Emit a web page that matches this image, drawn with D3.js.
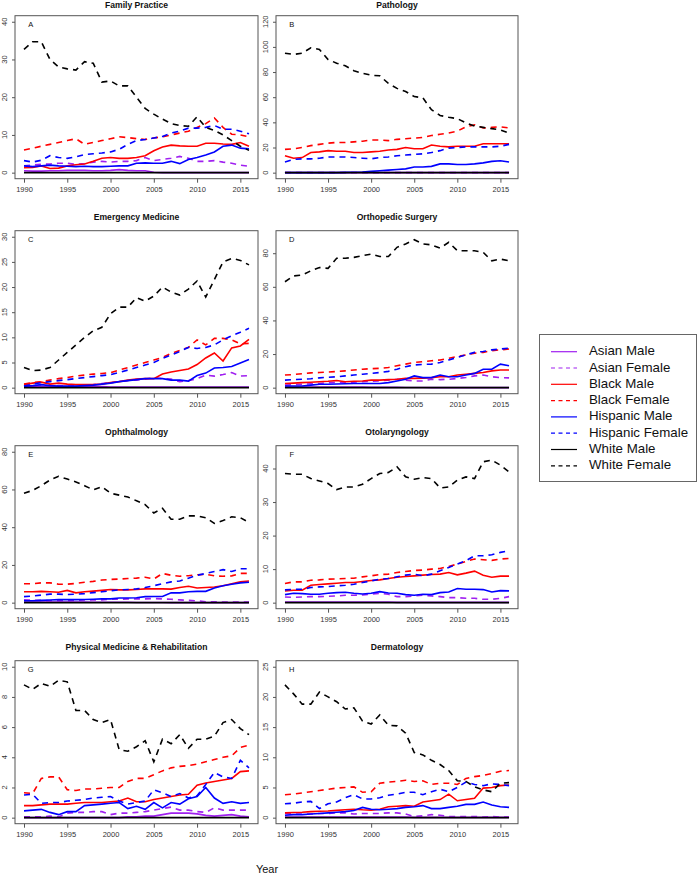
<!DOCTYPE html>
<html><head><meta charset="utf-8">
<script src="https://cdn.jsdelivr.net/npm/d3@7"></script>
<style>body{margin:0;background:#fff}svg{display:block;font-family:"Liberation Sans",Arial,sans-serif}</style>
</head><body><div id="chart"></div>
<script>
const years = d3.range(1990, 2017);
const xTicks = [1990, 1995, 2000, 2005, 2010, 2015];
const seriesNames = ["Asian Male","Asian Female","Black Male","Black Female","Hispanic Male","Hispanic Female","White Male","White Female"];
const seriesColors = ["#A020F0","#A020F0","#FF0000","#FF0000","#0000FF","#0000FF","#000000","#000000"];
const seriesDashed = [false,true,false,true,false,true,false,true];
const panelTitles = ["Family Practice","Pathology","Emergency Medicine","Orthopedic Surgery","Ophthalmology","Otolaryngology","Physical Medicine & Rehabilitation","Dermatology"];
const panelLetters = ["A","B","C","D","E","F","G","H"];
const panelYMax = [40,120,30,89.8,80,45,10,25];
const panelYTicks = [[0,10,20,30,40],[0,20,40,60,80,100,120],[0,5,10,15,20,25,30],[0,20,40,60,80],[0,20,40,60,80],[0,10,20,30,40],[0,2,4,6,8,10],[0,5,10,15,20,25]];
const zeros = years.map(() => 0);

// Each panel: [Asian M, Asian F, Black M, Black F, Hispanic M, Hispanic F, White M, White F]
const familyPractice = [
 [0.5,0.4,0.4,0.5,0.5,0.6,0.6,0.6,0.5,0.5,0.6,0.8,0.6,0.5,0.5,0.1,0,0,0,0,0,0,0,0,0,0,0],
 [1.8,2,2.2,2.3,2.5,2.5,2.2,2.4,2.8,3,2.8,3,3,3.2,4,3.2,3.5,3.8,4.3,3.8,3,3,3.2,2.8,2.5,2,1.7],
 [1.3,1.4,1.8,1.1,1.2,1.8,2.1,2.3,3,3.8,4,3.8,3.8,4,4.5,5.8,6.8,7.3,7.1,7,7,7.8,7.8,7.6,7.5,8,7],
 [6,6.5,7,7.5,8,8.5,9,7.5,8,8.5,9,9.5,9.3,9,8.8,9.2,9.5,10,10.5,11,12,13,14.5,12,10.2,10,9.5],
 [1.8,1.6,1.8,2,1.8,1.7,1.6,1.7,1.6,1.6,1.7,1.8,1.8,2.5,2.6,2.5,2.5,3,2.4,3.5,4,4.7,5.5,7,7.3,6.5,6.3],
 [3.2,2.8,3.3,4.5,4,3.8,4.2,4.8,5,5.2,5.5,6.2,7.5,8.5,8.8,9.2,9.6,10.5,11,11.8,11.8,12,12.5,11.5,11.5,11,10.3],
 zeros,
 [32.7,34.7,34.7,30,28,27.5,27.2,29.4,29,24,24.3,23,23,20,17,15.5,14.2,13,12.5,12.3,14.8,12,11.2,10,8.5,7,5.9]
];
const pathology = [
 zeros,
 zeros,
 [13.5,11.5,12,16,16.5,17.5,17,17,16,16,16.5,17,18,18.5,20,19,19,22,21,20.5,21,21,21,23,23,23,23],
 [18.5,19,20,21.5,22.5,23.5,24,24,24.5,25,26,26,25.5,26.5,27,27.5,28,29.5,30.5,31.5,33,36.5,38,35.5,36,36.5,35.5],
 [0,0,0,0,0,0,0,0.2,0.3,0.5,1,1.5,2,2.5,3,4.5,4.5,5,7,7,6.5,6.5,7,7.8,9,9.5,8.5],
 [8.5,10.5,11,11,11.5,12.5,12.5,12.5,12,11.5,11,12,12.5,13.5,14,14.5,15,16,17.5,19.5,20,20.5,20.5,20.5,20.5,21,22.5],
 zeros,
 [95,94,95,99.3,98,90,87,85,81,79,77.5,77,71,67,64.5,60.5,59.5,50,45.5,44,43,39.5,37,36,35,34,31.5]
];
const emergencyMedicine = [
 [0.2,0.2,0.2,0.2,0.2,0.2,0.2,0.2,0.2,0.2,0.1,0.1,0.1,0.1,0.1,0.1,0.1,0.1,0.1,0.1,0.1,0.1,0.1,0.1,0.1,0.1,0.1],
 [0.2,0.3,0.3,0.3,0.4,0.3,0.4,0.5,0.6,0.8,1,1.2,1.4,1.5,1.7,2,1.8,1.7,1.2,1.4,1.8,2.5,2.3,2.6,3,2.3,2.4],
 [0.6,0.9,1.1,0.7,0.9,0.7,0.6,0.6,0.6,0.7,1,1.2,1.5,1.7,1.8,1.8,2.7,3.1,3.4,3.7,4.6,5.9,6.9,5.3,7.9,8.3,9.6],
 [0.7,1,1.2,1.5,1.8,2,2.3,2.5,2.7,2.8,3,3.5,4,4.5,5,5.5,6,6.8,7.4,8,9.5,8.5,9.8,9.8,9.5,8.7,8.8],
 [0.3,0.4,0.6,0.4,0.3,0.3,0.3,0.4,0.5,0.7,0.9,1.2,1.4,1.6,1.8,1.8,1.8,1.5,1.5,1.3,2.4,2.9,3.9,4,4.2,4.9,5.6],
 [0.3,0.7,1,1.2,1.4,1.6,1.8,2,2.2,2.4,2.6,3,3.5,4,4.5,5,5.8,6.5,7.2,8,7.8,8,8.5,9.5,10.3,11,11.8],
 zeros,
 [4,3.4,3.5,4,5.5,7,8.5,10,11.3,12,14.7,16,16,17.9,17.2,18.2,20,19,18.4,19.6,21.2,18,21.5,25,25.7,25.3,24.4]
];
const orthopedicSurgery = [
 [0.3,0.3,0.3,0.3,0.3,0.3,0.3,0.3,0.3,0.3,0.2,0.2,0.2,0.2,0.1,0.1,0.1,0,0,0,0,0,0,0,0,0,0],
 [1.5,1.8,2,2.3,2.5,3,3.2,3.3,3.3,3.5,3.8,4,4.5,5,4.5,4,4,5,4.8,5,5.5,6,7,7.5,6.5,6,5.8],
 [2.5,2.7,3,3.2,3.5,3.8,4.3,3.5,3.8,4,4.5,4.5,4.8,5,5.5,5.5,5.7,6,6.5,6.5,7.5,8,8.5,9,10,10.5,10.5],
 [7.5,7.8,8.3,8.8,9,9.3,9.6,10,10.5,11,11.3,11.5,12,13,14,15,15.5,16,16.5,17.5,18.5,19.5,20.5,21,22,22.5,23],
 [1,1,1,1.5,2,2,2.2,2.3,2.5,2.5,2.5,2.5,3,4,5,7,6,6,7.5,6.5,6.5,7.5,8.5,11,11,14,13],
 [4.5,4.8,5,5.3,5.8,6.2,6.5,7,7.5,8,8.5,9,9.7,11,12.5,13.5,13.8,14,15,16.5,18,19.5,21,21.5,22.5,23,23.5],
 zeros,
 [63,66.5,67,69.5,71.5,71,77,77,77.5,78.5,79.5,78,78,83.5,85.5,88,85.5,85,83,86.5,81.5,81.5,81.5,80.5,75.5,76.5,75.5]
];
const ophthalmology = [
 [0.3,0.3,0.3,0.3,0.3,0.3,0.3,0.3,0.2,0.2,0.2,0.2,0.2,0.1,0.1,0.1,0.1,0,0,0,0,0,0,0,0,0,0],
 [1.5,1.3,1.2,1,1,1,1.2,1.5,1.5,1.5,1.8,1.8,2,2,2,2.2,2,1.8,1.5,1.2,1,0.5,0.5,0.3,0.3,0.3,0.3],
 [5.8,5.8,6,5.8,5.5,6.5,5.2,5.8,6.1,6.5,7,6.8,6.8,7,7.3,7.3,7.3,7.2,8,8.7,7.8,8,8.3,9,10,11,11.5],
 [10,10,10.5,10.5,9.8,9.8,10.2,10.8,11.3,12,12.3,12.5,12.8,13,13.5,12.5,15.5,14.5,14,14.3,14.8,15,14.2,14,14.2,15.5,15.5],
 [1,1,1.2,1.4,1.6,1.6,1.6,1.7,1.8,2,2,2.5,2.5,2.6,3.2,3.3,3.3,5.2,5.2,5.8,6,6,7.8,9,9.8,10.5,10.8],
 [3.2,3.5,4,4.5,4.5,4.3,4.5,4.8,5.3,5.8,6.3,6.8,7,7.3,8,9,10,11,11.5,13,14.5,15.5,16.5,17.5,16.5,18,18],
 zeros,
 [58,59.5,62,65,67,65.5,64,62,59.8,61.5,58,57,56,54,52,47.5,50,44.2,44.2,46,46,45,42,43.5,45.5,45,42.5]
];
const otolaryngology = [
 [0.2,0.2,0.2,0.2,0.2,0.2,0.2,0.2,0.2,0.2,0.2,0.2,0.2,0.1,0.1,0.1,0.1,0.1,0.1,0.1,0.1,0.1,0.1,0.1,0.1,0.1,0.1],
 [1.7,1.6,1.7,1.8,1.8,1.9,2,2.2,2.2,2.3,2.5,2.8,2.5,1.8,1.8,2,2.2,2,1.8,1.5,1.5,1.3,1.3,1,1,1.3,1.8],
 [3.5,3.7,3.7,5.2,5.4,5.6,5.8,6,6,6.3,6.6,6.8,7.2,7.6,7.8,8,8.2,8.4,8.5,9,8.3,8.8,9.4,8.2,7.6,7.9,7.9],
 [5.7,6.2,6.2,6.7,6.8,7,7.1,7.2,7.3,7.7,8,8.4,8.5,9,9.3,9.6,9.7,10,10.2,10.8,11.5,12.3,13,12.8,12.6,13,13.2],
 [2.4,2.8,2.7,2.5,2.5,2.8,3,3.1,2.8,2.6,2.8,3.3,2.9,2.8,2.4,2.2,2.5,2.4,3,3.2,4.2,4,4,3.9,3.2,3.6,3.5],
 [3.8,4,4,4.5,4.7,4.8,5,5.2,5.5,6,6.5,7,7.2,7.7,8.2,8.5,8,8.5,9.5,10.5,11.5,12.5,14,14,14.3,15,15.5],
 zeros,
 [38.5,38.3,38.3,37,36.3,35.5,33.7,34.5,34.5,35.3,37,38.5,38.8,40.5,37.5,36.8,37.3,37,34.2,34.5,36.5,37.5,37,42,42.5,41,39]
];
const physicalMedicine = [
 [0,0,0,0,0,0,0,0,0,0,0,0,0.05,0.05,0.1,0.1,0.2,0.3,0.3,0.3,0.25,0.15,0.1,0.15,0.2,0.1,0.05],
 [0.05,0.05,0.05,0.1,0.05,0.3,0.35,0.35,0.4,0.4,0.2,0.3,0.3,0.35,0.4,0.5,0.6,0.7,0.5,0.5,0.4,0.35,0.65,0.5,0.5,0.5,0.5],
 [0.8,0.8,0.85,0.9,0.9,0.9,0.95,1,1,1,1.05,1.1,1.3,1.05,1.05,1.2,1.3,1.4,1.5,1.55,2.15,2.3,2.4,2.5,2.6,3.05,3.1],
 [1.65,1.6,2.6,2.7,2.7,1.85,1.8,1.9,1.9,1.95,2,2,2.4,2.6,2.6,2.85,3.1,3.3,3.4,3.45,3.55,3.7,3.85,4,4.1,4.65,4.8],
 [0.45,0.5,0.55,0.35,0.2,0.4,0.4,0.8,0.85,0.9,0.95,1,0.6,0.75,0.55,1,0.65,1,0.9,1.25,1.4,2,1.3,0.95,1.05,0.95,1],
 [1.5,1.55,0.95,1,1,1.1,1.15,1.2,1.3,1.35,1.4,1.1,0.9,1,1.1,1.85,1.65,1.4,1.6,1.3,1.45,2.2,3,2.7,2.6,3.8,3.3],
 zeros,
 [8.8,8.5,8.9,8.7,9.1,9,7.1,7.1,6.5,6.3,6.5,4.5,4.4,4.7,5.1,3.7,5.2,4.9,5.5,4.6,5.2,5.2,5.4,6.3,6.5,5.9,5.5]
];
const dermatology = [
 [0.1,0.1,0.1,0.1,0.1,0.1,0.1,0.1,0.1,0.1,0.1,0.1,0.1,0.1,0.1,0.05,0.05,0.05,0.05,0.05,0.05,0.05,0.05,0.05,0.05,0.05,0.05],
 [0.7,0.6,0.6,0.6,0.7,0.7,0.8,0.8,0.6,0.7,0.7,0.7,0.8,0.8,0.6,0.2,0.3,0.5,0.4,0.2,0.2,0.2,0.2,0.1,0.2,0.1,0.1],
 [0.8,0.85,0.9,1,1.05,1.1,1.2,1.3,1.4,1.3,1.25,1.4,1.8,1.9,2,1.9,2.6,2.8,3,3.9,2.8,3,3.2,4.9,5,5.3,5.4],
 [3.8,3.9,4.1,4.3,4.5,4.7,4.9,5,5.1,4.2,4.3,5.7,5.9,6,6.2,6,6.1,5.5,5.7,5.7,5.5,6.5,6.8,7,7.3,7.7,7.8],
 [0.4,0.5,0.5,0.6,0.7,0.8,0.9,1,1.2,1.7,1.4,1.3,1.4,1.5,1.7,1.8,2,1.5,1.5,1.7,1.9,2.2,2.2,2.6,2.1,1.8,1.7],
 [2.3,2.4,2.6,2.7,1.5,2.3,2.6,3.3,3.8,3.1,3.1,3.3,3.7,3.9,4.2,4.2,3.8,4.3,4.7,4.3,5,5.9,5.5,5.3,5.6,5.5,5.3],
 zeros,
 [22,20.5,18.8,18.8,20.8,20,19.2,18,18.2,16,15.5,17,15.3,15.2,14,10.8,10.4,9.5,8.8,7.8,6.1,6,5.1,4.6,4.3,5.7,5.8]
];
const panelData = [familyPractice, pathology, emergencyMedicine, orthopedicSurgery, ophthalmology, otolaryngology, physicalMedicine, dermatology];

const W = 697, H = 874;
const svg = d3.select("#chart").append("svg").attr("width", W).attr("height", H);
const colX = [[15, 258], [276, 518]];
const rowTop = [15.7, 230.7, 445.7, 660.7];
const boxH = 163;
const textCol = "#333";
const fontFam = "Liberation Sans, Arial, sans-serif";

panelData.forEach((data, i) => {
  const c = i % 2, r = Math.floor(i / 2);
  const [x0, x1] = colX[c];
  const y0 = rowTop[r], y1 = y0 + boxH;
  const xPad = (2016 - 1990) * 0.04;
  const x = d3.scaleLinear().domain([1990 - xPad, 2016 + xPad]).range([x0, x1]);
  const ym = panelYMax[i];
  const y = d3.scaleLinear().domain([-0.04 * ym, 1.04 * ym]).range([y1, y0]);
  const g = svg.append("g");

  // lines
  const line = d3.line().x((d, k) => x(years[k])).y(d => y(d));
  data.forEach((vals, s) => {
    g.append("path").datum(vals).attr("d", line)
      .attr("fill", "none").attr("stroke", seriesColors[s])
      .attr("stroke-width", 1.6)
      .attr("stroke-dasharray", seriesDashed[s] ? "6,5" : null);
  });

  // box
  g.append("rect").attr("x", x0).attr("y", y0).attr("width", x1 - x0).attr("height", boxH)
    .attr("fill", "none").attr("stroke", "#555").attr("stroke-width", 1);

  // x axis
  const xa = g.append("g").attr("transform", `translate(0,${y1})`)
    .call(d3.axisBottom(x).tickValues(xTicks).tickFormat(d3.format("d")).tickSize(4).tickPadding(4));
  xa.select(".domain").remove();
  xa.selectAll("line").attr("stroke", "#555");
  xa.selectAll("text").attr("font-size", 7.5).attr("fill", textCol).attr("font-family", fontFam);

  // y axis (ticks from axis, labels rotated as in the original)
  const ya = g.append("g").attr("transform", `translate(${x0},0)`)
    .call(d3.axisLeft(y).tickValues(panelYTicks[i]).tickFormat(d3.format("d")).tickSize(3));
  ya.select(".domain").remove();
  ya.selectAll("line").attr("stroke", "#555");
  ya.selectAll(".tick text").remove();
  panelYTicks[i].forEach(d => {
    ya.append("text").text(d3.format("d")(d))
      .attr("font-size", 7.5).attr("fill", textCol).attr("font-family", fontFam)
      .attr("text-anchor", "middle").attr("dominant-baseline", "middle")
      .attr("transform", `translate(-10,${y(d)}) rotate(-90)`);
  });

  // title
  svg.append("text").attr("x", (x0 + x1) / 2).attr("y", Math.max(y0 - 12.5, 6))
    .attr("text-anchor", "middle").attr("dominant-baseline", "middle")
    .attr("font-weight", "bold").attr("font-size", 8.6).attr("fill", "#111")
    .text(panelTitles[i]);
  // letter
  svg.append("text").attr("x", x0 + 15.7).attr("y", y0 + 9.5)
    .attr("text-anchor", "middle").attr("dominant-baseline", "middle")
    .attr("font-size", 7.5).attr("fill", "#111").text(panelLetters[i]);
});

// legend
const lg = svg.append("g");
lg.append("rect").attr("x", 539.5).attr("y", 334.5).attr("width", 157).attr("height", 147)
  .attr("fill", "#fff").attr("stroke", "#666").attr("stroke-width", 1);
seriesNames.forEach((name, s) => {
  const yy = 351.7 + s * 16.3;
  lg.append("line").attr("x1", 551).attr("x2", 577).attr("y1", yy).attr("y2", yy)
    .attr("stroke", seriesColors[s]).attr("stroke-width", 1.2)
    .attr("stroke-dasharray", seriesDashed[s] ? "4,3.5" : null);
  lg.append("text").attr("x", 589).attr("y", yy).attr("dominant-baseline", "middle")
    .attr("font-size", 13.3).attr("fill", "#111").text(name);
});

// x label
svg.append("text").attr("x", 267).attr("y", 870).attr("text-anchor", "middle")
  .attr("dominant-baseline", "middle").attr("font-size", 11).attr("fill", "#111").text("Year");
</script>
</body></html>
